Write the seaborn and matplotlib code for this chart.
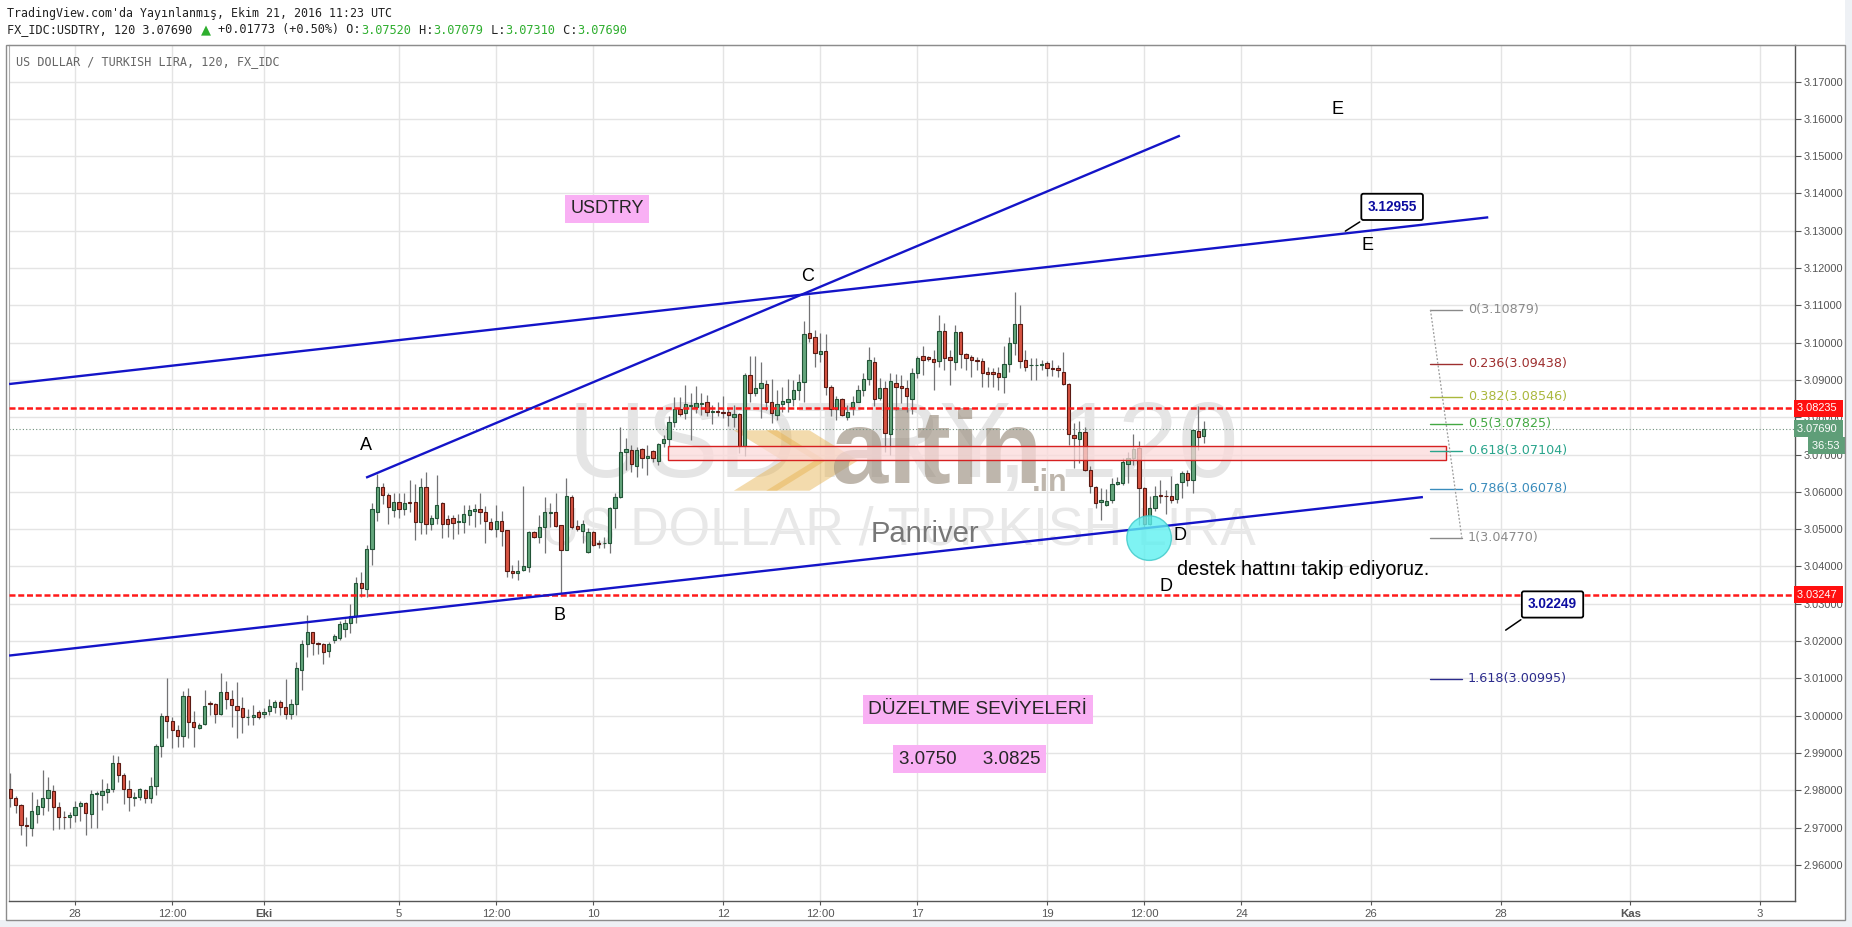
import numpy as np
import pandas as pd
import matplotlib
matplotlib.use("Agg")
import matplotlib.pyplot as plt
import matplotlib.transforms as mtrans
from matplotlib.patches import Rectangle, Ellipse, Polygon
from matplotlib.ticker import FixedLocator, FormatStrFormatter
import seaborn as sns

# ---------------- data (USDTRY 120 min bars) ----------------
opens = [2.9804, 2.9778, 2.9761, 2.9707, 2.9700, 2.9737, 2.9756, 2.9778, 2.9799, 2.9756,
         2.9728, 2.9727, 2.9734, 2.9758, 2.9767, 2.9737, 2.9790, 2.9788, 2.9796, 2.9804,
         2.9873, 2.9842, 2.9804, 2.9778, 2.9783, 2.9801, 2.9778, 2.9810, 2.9919, 2.9999,
         2.9985, 2.9962, 2.9945, 3.0053, 2.9984, 2.9968, 2.9977, 3.0035, 3.0032, 3.0005,
         3.0064, 3.0045, 3.0026, 3.0021, 2.9995, 2.9995, 3.0009, 3.0004, 3.0013, 3.0024,
         3.0036, 3.0022, 3.0004, 3.0030, 3.0122, 3.0191, 3.0223, 3.0195, 3.0192, 3.0174,
         3.0202, 3.0207, 3.0232, 3.0247, 3.0266, 3.0355, 3.0339, 3.0446, 3.0547, 3.0612,
         3.0591, 3.0551, 3.0573, 3.0553, 3.0573, 3.0572, 3.0520, 3.0614, 3.0513, 3.0531,
         3.0569, 3.0528, 3.0531, 3.0518, 3.0519, 3.0538, 3.0549, 3.0554, 3.0545, 3.0520,
         3.0500, 3.0523, 3.0497, 3.0388, 3.0382, 3.0391, 3.0398, 3.0492, 3.0479, 3.0505,
         3.0543, 3.0547, 3.0510, 3.0445, 3.0586, 3.0509, 3.0495, 3.0440, 3.0491, 3.0463,
         3.0462, 3.0464, 3.0556, 3.0587, 3.0707, 3.0712, 3.0668, 3.0714, 3.0690, 3.0710,
         3.0683, 3.0730, 3.0741, 3.0787, 3.0822, 3.0811, 3.0830, 3.0827, 3.0836, 3.0840,
         3.0814, 3.0818, 3.0815, 3.0813, 3.0800, 3.0808, 3.0723, 3.0913, 3.0865, 3.0878,
         3.0889, 3.0842, 3.0805, 3.0835, 3.0841, 3.0849, 3.0874, 3.0894, 3.1025, 3.1015,
         3.0970, 3.0978, 3.0881, 3.0822, 3.0849, 3.0800, 3.0827, 3.0840, 3.0874, 3.0902,
         3.0949, 3.0851, 3.0878, 3.0755, 3.0891, 3.0885, 3.0878, 3.0849, 3.0918, 3.0965,
         3.0961, 3.0956, 3.0951, 3.1032, 3.0961, 3.0948, 3.1028, 3.0969, 3.0961, 3.0954,
         3.0951, 3.0920, 3.0921, 3.0918, 3.0907, 3.0942, 3.1000, 3.1049, 3.0954, 3.0939,
         3.0939, 3.0939, 3.0945, 3.0932, 3.0932, 3.0921, 3.0890, 3.0753, 3.0742, 3.0760,
         3.0659, 3.0613, 3.0572, 3.0565, 3.0579, 3.0622, 3.0623, 3.0674, 3.0692, 3.0717,
         3.0610, 3.0515, 3.0556, 3.0592, 3.0590, 3.0590, 3.0582, 3.0626, 3.0650, 3.0631,
         3.0763, 3.0750]
highs = [2.9845, 2.9785, 2.9763, 2.9727, 2.9794, 2.9776, 2.9853, 2.9836, 2.9813, 2.9769,
         2.9745, 2.9742, 2.9771, 2.9771, 2.9769, 2.9801, 2.9798, 2.9831, 2.9820, 2.9894,
         2.9892, 2.9847, 2.9828, 2.9796, 2.9807, 2.9804, 2.9836, 2.9923, 3.0008, 3.0102,
         2.9997, 2.9974, 3.0066, 3.0075, 3.0012, 2.9979, 3.0070, 3.0039, 3.0035, 3.0113,
         3.0092, 3.0068, 3.0090, 3.0051, 3.0019, 3.0028, 3.0015, 3.0020, 3.0044, 3.0042,
         3.0042, 3.0097, 3.0044, 3.0145, 3.0203, 3.0270, 3.0225, 3.0198, 3.0196, 3.0198,
         3.0219, 3.0254, 3.0258, 3.0299, 3.0372, 3.0384, 3.0457, 3.0569, 3.0648, 3.0624,
         3.0598, 3.0596, 3.0596, 3.0596, 3.0631, 3.0621, 3.0636, 3.0654, 3.0538, 3.0645,
         3.0573, 3.0538, 3.0538, 3.0540, 3.0564, 3.0565, 3.0568, 3.0596, 3.0561, 3.0529,
         3.0565, 3.0549, 3.0498, 3.0404, 3.0418, 3.0616, 3.0494, 3.0494, 3.0538, 3.0586,
         3.0570, 3.0596, 3.0512, 3.0637, 3.0592, 3.0525, 3.0525, 3.0503, 3.0494, 3.0471,
         3.0480, 3.0559, 3.0596, 3.0775, 3.0744, 3.0726, 3.0721, 3.0717, 3.0726, 3.0712,
         3.0732, 3.0753, 3.0802, 3.0855, 3.0855, 3.0887, 3.0864, 3.0884, 3.0864, 3.0860,
         3.0833, 3.0842, 3.0856, 3.0824, 3.0833, 3.0811, 3.0918, 3.0965, 3.0965, 3.0949,
         3.0900, 3.0902, 3.0872, 3.0882, 3.0903, 3.0900, 3.0916, 3.1059, 3.1128, 3.1034,
         3.1025, 3.1024, 3.0887, 3.0856, 3.0851, 3.0833, 3.0856, 3.0887, 3.0918, 3.0988,
         3.0961, 3.0905, 3.0896, 3.0918, 3.0916, 3.0914, 3.0900, 3.0932, 3.0965, 3.0990,
         3.0963, 3.0981, 3.1074, 3.1052, 3.0981, 3.1048, 3.1030, 3.0972, 3.0967, 3.0961,
         3.0958, 3.0936, 3.0932, 3.0936, 3.0990, 3.1016, 3.1137, 3.1101, 3.0981, 3.0958,
         3.0958, 3.0954, 3.0952, 3.0954, 3.0940, 3.0976, 3.0891, 3.0784, 3.0789, 3.0775,
         3.0668, 3.0615, 3.0610, 3.0607, 3.0637, 3.0641, 3.0690, 3.0706, 3.0755, 3.0735,
         3.0613, 3.0588, 3.0615, 3.0632, 3.0606, 3.0643, 3.0623, 3.0655, 3.0659, 3.0766,
         3.0829, 3.0789]
lows = [2.9756, 2.9740, 2.9679, 2.9651, 2.9678, 2.9713, 2.9733, 2.9743, 2.9694, 2.9695,
        2.9697, 2.9700, 2.9715, 2.9718, 2.9679, 2.9700, 2.9698, 2.9747, 2.9767, 2.9796,
        2.9822, 2.9762, 2.9745, 2.9758, 2.9773, 2.9765, 2.9765, 2.9787, 2.9888, 2.9941,
        2.9914, 2.9917, 2.9916, 2.9941, 2.9917, 2.9965, 2.9975, 3.0003, 2.9979, 3.0003,
        3.0017, 2.9970, 2.9941, 2.9953, 2.9974, 2.9974, 2.9990, 2.9993, 3.0002, 3.0006,
        3.0002, 2.9990, 2.9990, 3.0002, 3.0069, 3.0158, 3.0163, 3.0165, 3.0138, 3.0158,
        3.0196, 3.0203, 3.0212, 3.0221, 3.0247, 3.0319, 3.0317, 3.0404, 3.0522, 3.0567,
        3.0515, 3.0533, 3.0531, 3.0538, 3.0547, 3.0471, 3.0487, 3.0487, 3.0499, 3.0515,
        3.0477, 3.0478, 3.0474, 3.0487, 3.0489, 3.0512, 3.0507, 3.0514, 3.0464, 3.0498,
        3.0480, 3.0456, 3.0373, 3.0369, 3.0364, 3.0389, 3.0384, 3.0476, 3.0462, 3.0436,
        3.0507, 3.0507, 3.0328, 3.0445, 3.0500, 3.0494, 3.0462, 3.0436, 3.0455, 3.0449,
        3.0449, 3.0436, 3.0503, 3.0583, 3.0659, 3.0654, 3.0641, 3.0663, 3.0646, 3.0681,
        3.0672, 3.0721, 3.0721, 3.0775, 3.0802, 3.0795, 3.0739, 3.0811, 3.0806, 3.0802,
        3.0782, 3.0802, 3.0798, 3.0777, 3.0775, 3.0704, 3.0695, 3.0842, 3.0856, 3.0798,
        3.0820, 3.0784, 3.0793, 3.0815, 3.0815, 3.0829, 3.0847, 3.0842, 3.1003, 3.0934,
        3.0949, 3.0860, 3.0802, 3.0793, 3.0804, 3.0793, 3.0807, 3.0840, 3.0857, 3.0887,
        3.0829, 3.0847, 3.0708, 3.0699, 3.0820, 3.0838, 3.0815, 3.0809, 3.0905, 3.0914,
        3.0952, 3.0872, 3.0934, 3.0927, 3.0887, 3.0927, 3.0932, 3.0927, 3.0907, 3.0927,
        3.0881, 3.0882, 3.0881, 3.0872, 3.0865, 3.0920, 3.0967, 3.0932, 3.0923, 3.0900,
        3.0900, 3.0927, 3.0911, 3.0911, 3.0909, 3.0887, 3.0726, 3.0664, 3.0677, 3.0655,
        3.0597, 3.0556, 3.0525, 3.0561, 3.0570, 3.0619, 3.0619, 3.0623, 3.0673, 3.0512,
        3.0507, 3.0512, 3.0548, 3.0570, 3.0541, 3.0570, 3.0570, 3.0583, 3.0615, 3.0597,
        3.0713, 3.0732]
closes = [2.9778, 2.9761, 2.9708, 2.9703, 2.9743, 2.9758, 2.9778, 2.9801, 2.9756, 2.9727,
          2.9727, 2.9734, 2.9756, 2.9767, 2.9740, 2.9791, 2.9792, 2.9797, 2.9802, 2.9873,
          2.9842, 2.9804, 2.9782, 2.9783, 2.9803, 2.9778, 2.9810, 2.9919, 2.9999, 2.9985,
          2.9962, 2.9945, 3.0053, 2.9984, 2.9970, 2.9974, 3.0026, 3.0032, 3.0005, 3.0064,
          3.0045, 3.0028, 3.0015, 2.9995, 2.9995, 3.0002, 2.9997, 3.0009, 3.0026, 3.0036,
          3.0024, 3.0004, 3.0030, 3.0127, 3.0191, 3.0225, 3.0194, 3.0192, 3.0170, 3.0192,
          3.0213, 3.0246, 3.0248, 3.0266, 3.0355, 3.0341, 3.0448, 3.0553, 3.0612, 3.0591,
          3.0560, 3.0573, 3.0553, 3.0569, 3.0571, 3.0519, 3.0614, 3.0515, 3.0529, 3.0566,
          3.0515, 3.0515, 3.0517, 3.0522, 3.0540, 3.0552, 3.0554, 3.0547, 3.0522, 3.0500,
          3.0523, 3.0494, 3.0387, 3.0382, 3.0389, 3.0402, 3.0492, 3.0479, 3.0505, 3.0545,
          3.0547, 3.0509, 3.0445, 3.0590, 3.0505, 3.0500, 3.0513, 3.0491, 3.0457, 3.0461,
          3.0464, 3.0556, 3.0587, 3.0706, 3.0714, 3.0674, 3.0712, 3.0690, 3.0697, 3.0692,
          3.0728, 3.0741, 3.0787, 3.0821, 3.0808, 3.0835, 3.0833, 3.0837, 3.0839, 3.0815,
          3.0818, 3.0813, 3.0812, 3.0805, 3.0808, 3.0723, 3.0914, 3.0865, 3.0878, 3.0891,
          3.0842, 3.0811, 3.0835, 3.0844, 3.0849, 3.0874, 3.0894, 3.1023, 3.1012, 3.0972,
          3.0978, 3.0881, 3.0822, 3.0849, 3.0807, 3.0815, 3.0840, 3.0874, 3.0902, 3.0954,
          3.0849, 3.0878, 3.0759, 3.0896, 3.0882, 3.0878, 3.0856, 3.0918, 3.0958, 3.0954,
          3.0956, 3.0949, 3.1032, 3.0958, 3.0954, 3.1028, 3.0970, 3.0958, 3.0954, 3.0952,
          3.0918, 3.0915, 3.0916, 3.0907, 3.0942, 3.1000, 3.1049, 3.0951, 3.0934, 3.0940,
          3.0940, 3.0942, 3.0932, 3.0930, 3.0927, 3.0890, 3.0755, 3.0744, 3.0760, 3.0659,
          3.0615, 3.0570, 3.0579, 3.0576, 3.0622, 3.0627, 3.0680, 3.0690, 3.0715, 3.0610,
          3.0515, 3.0556, 3.0588, 3.0590, 3.0588, 3.0579, 3.0622, 3.0650, 3.0631, 3.0765,
          3.0748, 3.0769]

# time axis (bar index of each label)
time_ticks = [12, 30, 47, 72, 90, 108, 132, 150, 168, 192, 210, 228, 252, 276, 300, 324]
time_labels = ['28', '12:00', 'Eki', '5', '12:00', '10', '12', '12:00', '17', '19', '12:00',
               '24', '26', '28', 'Kas', '3']
price_ticks = [2.96, 2.97, 2.98, 2.99, 3.00, 3.01, 3.02, 3.03, 3.04, 3.05, 3.06, 3.07,
               3.08, 3.09, 3.10, 3.11, 3.12, 3.13, 3.14, 3.15, 3.16, 3.17]

# drawings
upper_x, upper_y = [-0.2, 273.7], [3.0889, 3.1336]
ac_x, ac_y = [65.9, 216.6], [3.0638, 3.1555]
lower_x, lower_y = [-0.2, 261.6], [3.0161, 3.0586]
resist_level, support_level, last_price = 3.08235, 3.03247, 3.07690

fib_names = ['0', '0.236', '0.382', '0.5', '0.618', '0.786', '1', '1.618']
fib_prices = [3.10879, 3.09438, 3.08546, 3.07825, 3.07104, 3.06078, 3.04770, 3.00995]
fib_colors = ['#8a8a8a', '#9e2f2f', '#aab83c', '#43a843', '#2aa58c', '#3a8cbc', '#8a8a8a', '#2b2b8c']
fib_x = [263.0, 268.8]

zone_x, zone_y = [121.9, 265.8], [3.0686, 3.0723]

# ---------------- style ----------------
sns.set_theme(style="white")
plt.rcParams['font.family'] = ['Liberation Sans', 'DejaVu Sans']

fig = plt.figure(figsize=(18.52, 9.27), dpi=100)
fig.patch.set_facecolor('white')
ax = fig.add_axes([9 / 1852, 26 / 927, 1786 / 1852, 856 / 927])
ax.set_facecolor('white')

df = pd.DataFrame({'o': opens, 'h': highs, 'l': lows, 'c': closes})
df['i'] = np.arange(len(df))
df['up'] = df.c >= df.o
df['bot'] = df[['o', 'c']].min(axis=1)
df['hgt'] = (df.c - df.o).abs().clip(lower=0.00012)

# grid
for t in time_ticks:
    ax.axvline(t, color='#e4e4e4', lw=1, zorder=0)
for p in price_ticks:
    ax.axhline(p, color='#e4e4e4', lw=1, zorder=0)

# watermark
ax.text(165.4, 3.0715, 'USDTRY, 120', fontsize=78, color='#e5e5e5', ha='center', va='center',
        zorder=1)
ax.text(164.5, 3.0497, 'US DOLLAR / TURKISH LIRA', fontsize=38.5, color='#e8e8e8', ha='center',
        va='center', zorder=1)
# gold chevrons of the altin.in logo
for dx in (0, 6):
    ax.add_patch(Polygon([(134 + dx, 3.0765), (142 + dx, 3.0765), (151 + dx, 3.0684),
                          (142 + dx, 3.0603), (134 + dx, 3.0603), (143 + dx, 3.0684)],
                         closed=True, facecolor='#e6b04a', edgecolor='none', alpha=0.45,
                         zorder=1))
ax.text(171.5, 3.0695, 'altin', fontsize=74, fontweight='bold', color='#9c9080', alpha=0.65,
        ha='center', va='center', zorder=1)
ax.text(192.4, 3.0625, '.in', fontsize=22, fontweight='bold', color='#9c9080', alpha=0.65,
        ha='center', va='center', zorder=1)
ax.text(169.4, 3.0486, 'Panriver', fontsize=21, color='#777777', ha='center', va='center',
        zorder=2)

# candles
wick_col = '#737375'
ax.vlines(df.i, df.l, df.h, color=wick_col, lw=0.9, zorder=3)
up_df, dn_df = df[df.up], df[~df.up]
ax.bar(up_df.i, up_df.hgt, bottom=up_df.bot, width=0.62, color='#64a67c',
       edgecolor='#225437', lw=0.8, zorder=4)
ax.bar(dn_df.i, dn_df.hgt, bottom=dn_df.bot, width=0.62, color='#d75442',
       edgecolor='#5b1a13', lw=0.8, zorder=4)

# horizontal levels
ax.axhline(resist_level, color='#ff1a1a', lw=1.8, dashes=(2.4, 1.1), zorder=5)
ax.axhline(support_level, color='#ff1a1a', lw=1.8, dashes=(2.4, 1.1), zorder=5)
ax.axhline(last_price, color='#6f8f7c', lw=0.8, ls=(0, (1, 2)), zorder=2)

# zone rectangle
ax.add_patch(Rectangle((zone_x[0], zone_y[0]), zone_x[1] - zone_x[0], zone_y[1] - zone_y[0],
                       facecolor='#fbdada', alpha=0.75, edgecolor='none', zorder=5))
ax.add_patch(Rectangle((zone_x[0], zone_y[0]), zone_x[1] - zone_x[0], zone_y[1] - zone_y[0],
                       facecolor='none', edgecolor='#d62020', lw=1.0, zorder=5))

# trend lines
blue = '#1414c8'
for xs, ys in [(upper_x, upper_y), (ac_x, ac_y), (lower_x, lower_y)]:
    ax.plot(xs, ys, color=blue, lw=1.7, zorder=6, solid_capstyle='butt')

# fibonacci
for name, p, col in zip(fib_names, fib_prices, fib_colors):
    ax.plot(fib_x, [p, p], color=col, lw=1.0, zorder=6)
    ax.text(269.9, p, f'{name}({p:.5f})', color=col, fontsize=9.2, family='DejaVu Sans',
            ha='left', va='center', zorder=6)
ax.plot(fib_x, [fib_prices[0], fib_prices[6]], color='#9a9a9a', lw=0.9, ls=(0, (1.5, 1.5)), zorder=6)

# circle on D
ax.add_patch(Ellipse((210.9, 3.0476), 8.26, 0.01196, facecolor='#5ef0f0', edgecolor='#3cc8c8',
                     lw=1.0, alpha=0.8, zorder=7))

# wave labels
lab_kw = dict(fontsize=13, color='black', ha='center', va='center', zorder=8)
ax.text(65.9, 3.0725, 'A', **lab_kw)
ax.text(101.8, 3.0269, 'B', **lab_kw)
ax.text(147.7, 3.1176, 'C', **lab_kw)
ax.text(216.6, 3.0482, 'D', **lab_kw)
ax.text(214.0, 3.0345, 'D', **lab_kw)
ax.text(245.7, 3.1625, 'E', **lab_kw)
ax.text(251.4, 3.1261, 'E', **lab_kw)
ax.text(239.4, 3.0391, 'destek hattını takip ediyoruz.', fontsize=14.2, color='black',
        ha='center', va='center', zorder=8)

pink = dict(boxstyle='square,pad=0.3', facecolor='#f9b0f4', edgecolor='none')
ax.text(110.5, 3.1359, 'USDTRY', fontsize=13, ha='center', va='center', bbox=pink, zorder=8)
ax.text(179.2, 3.0016, 'DÜZELTME SEVİYELERİ', fontsize=13.8, ha='center', va='center',
        bbox=pink, zorder=8)
ax.text(177.7, 2.9883, '3.0750     3.0825', fontsize=13.5, ha='center', va='center',
        bbox=pink, zorder=8)

# price callouts
call_box = dict(boxstyle='round,pad=0.45,rounding_size=0.15', facecolor='white',
                edgecolor='black', lw=1.3)
ax.annotate('3.12955', xy=(246.8, 3.1295), xytext=(255.9, 3.1364), fontsize=9.8,
            fontweight='bold', color='#0c0ca0', ha='center', va='center', bbox=call_box,
            arrowprops=dict(arrowstyle='-', color='black', lw=1.1, relpos=(0.1, 0.0)), zorder=9)
ax.annotate('3.02249', xy=(276.5, 3.0225), xytext=(285.6, 3.0298), fontsize=9.8,
            fontweight='bold', color='#0c0ca0', ha='center', va='center', bbox=call_box,
            arrowprops=dict(arrowstyle='-', color='black', lw=1.1, relpos=(0.1, 0.0)), zorder=9)

# axes
ax.set_xlim(-0.22, 330.5)
ax.set_ylim(2.9503, 3.1798)
ax.yaxis.tick_right()
ax.yaxis.set_major_locator(FixedLocator(price_ticks))
ax.yaxis.set_major_formatter(FormatStrFormatter('%.5f'))
ax.set_xticks(time_ticks)
ax.set_xticklabels(time_labels)
for lbl in ax.get_xticklabels():
    if lbl.get_text() in ('Eki', 'Kas'):
        lbl.set_fontweight('bold')
ax.tick_params(axis='y', which='both', right=True, length=4, width=0.8, pad=2,
               labelsize=7.9, colors='#555555')
ax.tick_params(axis='x', which='both', bottom=True, length=3, width=0.8, pad=3,
               labelsize=8.2, colors='#555555')
for side in ['left', 'top']:
    ax.spines[side].set_color('#b0b0b0')
    ax.spines[side].set_linewidth(0.8)
for side in ['right', 'bottom']:
    ax.spines[side].set_color('#555555')
    ax.spines[side].set_linewidth(1.0)

# axis value badges
bl = mtrans.blended_transform_factory(ax.transAxes, ax.transData)
badge = dict(fontsize=7.9, color='white', ha='left', va='center', transform=bl, clip_on=False,
             zorder=10)
ax.text(1.0012, resist_level, '3.08235 ',
        bbox=dict(boxstyle='square,pad=0.32', facecolor='#ff1010', edgecolor='none'), **badge)
ax.text(1.0012, support_level, '3.03247 ',
        bbox=dict(boxstyle='square,pad=0.32', facecolor='#ff1010', edgecolor='none'), **badge)
ax.text(1.0012, last_price, '3.07690 ',
        bbox=dict(boxstyle='square,pad=0.32', facecolor='#5f9e78', edgecolor='none'), **badge)
ax.text(1.0095, last_price - 0.0046, '36:53 ',
        bbox=dict(boxstyle='square,pad=0.32', facecolor='#5f9e78', edgecolor='none'), **badge)

# outer frame and page background
fig.patches.append(Rectangle((0, 0), 1, 7 / 927, transform=fig.transFigure,
                             facecolor='#eef1f5', edgecolor='none', zorder=0))
fig.patches.append(Rectangle((1845 / 1852, 0), 7 / 1852, 1, transform=fig.transFigure,
                             facecolor='#eef1f5', edgecolor='none', zorder=0))
fig.patches.append(Rectangle((6 / 1852, 7 / 927), 1839 / 1852, 875 / 927,
                             transform=fig.transFigure, facecolor='none',
                             edgecolor='#8c8c8c', lw=1.0, zorder=1))

# header
mono = 'DejaVu Sans Mono'
fig.text(7 / 1852, 1 - 13 / 927, "TradingView.com'da Yayınlanmış, Ekim 21, 2016 11:23 UTC",
         family=mono, fontsize=8.4, color='#222222', va='center')
cw = 0.602 * 8.6 * 100 / 72 / 1852
parts = [("FX_IDC:USDTRY, 120 3.07690 ", '#222222'), ("▲", '#2eae2e'),
         ("+0.01773 (+0.50%) O:", '#222222'), ("3.07520", '#2eae2e'), (" H:", '#222222'),
         ("3.07079", '#2eae2e'), (" L:", '#222222'), ("3.07310", '#2eae2e'),
         (" C:", '#222222'), ("3.07690", '#2eae2e')]
xpos = 7 / 1852
for txt, col in parts:
    size = 12 if txt == "▲" else 8.6
    fig.text(xpos, 1 - 30 / 927, txt, family=mono, fontsize=size, color=col, va='center')
    xpos += cw * (2.3 if txt == "▲" else len(txt))
fig.text(16 / 1852, 1 - 62 / 927, 'US DOLLAR / TURKISH LIRA, 120, FX_IDC', family=mono,
         fontsize=8.5, color='#666666', va='center')

fig.savefig('out.png', dpi=100, facecolor=fig.get_facecolor())
